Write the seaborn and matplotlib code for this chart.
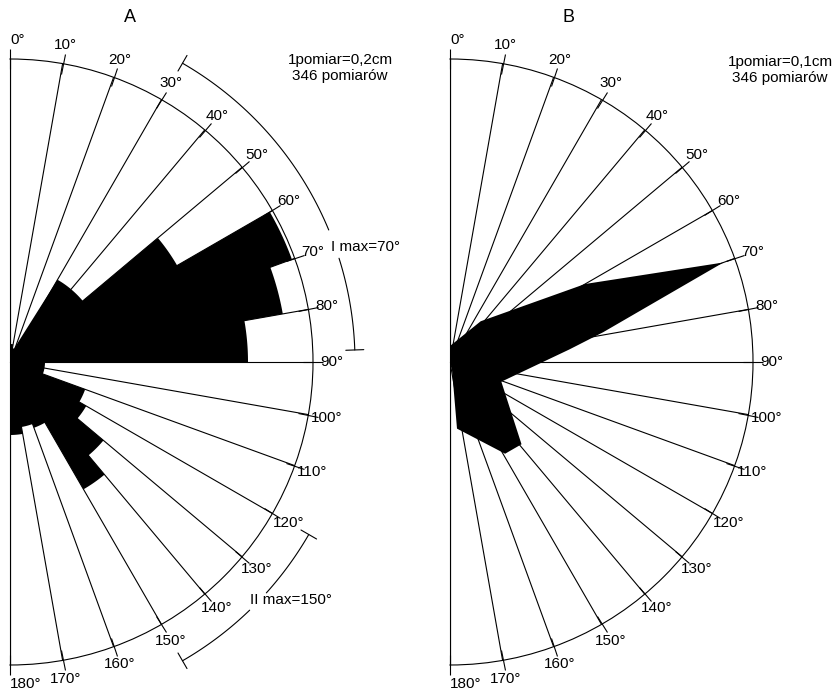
import numpy as np
import seaborn as sns
import matplotlib
matplotlib.use("Agg")
import matplotlib.pyplot as plt

# rose A: outline vertices (direction in degrees, radius in px of the drawing)
a_angles = [0, 10, 10, 17, 30, 50, 50, 60, 60, 70, 70, 80, 80, 90, 90, 110,
            110, 120, 120, 130, 130, 140, 140, 150, 150, 160, 160, 170, 170, 180]
a_radii = [18, 18, 14, 14, 95, 95, 193, 193, 300, 300, 277, 277, 238, 238, 35, 35,
           80, 80, 88, 88, 122, 122, 147, 147, 70, 70, 66, 66, 73, 73]

# rose B: frequency polygon vertices
b_angles = [0, 37, 60, 70, 79, 84, 111, 139, 149, 174]
b_radii = [16, 51, 156, 291, 156, 120, 55, 109, 107, 67]

tick_angles = list(range(0, 190, 10))
tick_labels = [f"{t}°" for t in tick_angles]

# range arcs drawn outside panel A
max1_range = [30, 88]
max1_gap = [67.5, 72.5]
max2_range = [120, 150]
max2_gap = [132, 136]

R = 303
W, H = 835, 690

sns.set_style("white")
plt.rcParams['font.family'] = ['Liberation Sans', 'DejaVu Sans']
plt.rcParams['text.color'] = 'black'


def outline(angles, radii):
    # constant radius pieces become arcs, the rest stay straight
    th, rr = [], []
    for i in range(len(angles) - 1):
        a0, a1, r0, r1 = angles[i], angles[i + 1], radii[i], radii[i + 1]
        if r0 == r1 and a0 != a1:
            seg = np.linspace(a0, a1, 30)[:-1]
            th.extend(seg)
            rr.extend([r0] * len(seg))
        else:
            th.append(a0)
            rr.append(r0)
    th.append(angles[-1])
    rr.append(radii[-1])
    return np.deg2rad(th), np.array(rr)


def half_rose(cx, cy):
    # the half disc gets centred inside a square box of side 2R
    ax = fig.add_axes([(cx - R / 2) / W, (H - cy - R) / H, 2 * R / W, 2 * R / H],
                      projection='polar')
    ax.set_theta_zero_location('N')
    ax.set_theta_direction(-1)
    ax.set_thetamin(0)
    ax.set_thetamax(180)
    ax.set_ylim(0, R)
    ax.set_yticks([])
    ax.set_xticks(np.deg2rad(tick_angles))
    ax.set_xticklabels(tick_labels, fontsize=11)
    for lbl in ax.get_xticklabels():
        if lbl.get_text() in ("0°", "180°"):
            lbl.set_horizontalalignment('left')
    ax.grid(True, axis='x', color='black', lw=0.8)
    ax.set_axisbelow(True)
    ax.tick_params(axis='x', bottom=False, top=True, direction='inout', length=7,
                   width=0.8, pad=3, colors='black')
    for s in ax.spines.values():
        s.set_color('black')
        s.set_linewidth(0.8)
    return ax


def range_arc(ax, rng, gap, r=345):
    for lo, hi in [(rng[0], gap[0]), (gap[1], rng[1])]:
        t = np.deg2rad(np.linspace(lo, hi, 40))
        ax.plot(t, np.full_like(t, r), color='black', lw=0.8, clip_on=False)
    for a in rng:
        ax.plot(np.deg2rad([a, a]), [r - 9, r + 9], color='black', lw=0.8, clip_on=False)


fig = plt.figure(figsize=(W / 100, H / 100), dpi=100)

axA = half_rose(10, 362)
th, rr = outline(a_angles, a_radii)
axA.fill(th, rr, color='black', lw=0, zorder=2)
range_arc(axA, max1_range, max1_gap)
range_arc(axA, max2_range, max2_gap)

axB = half_rose(450, 362)
axB.fill(np.deg2rad(b_angles), b_radii, color='black', lw=0, zorder=2)

fig.text(130 / W, 1 - 17 / H, "A", fontsize=13, ha='center', va='center')
fig.text(568 / W, 1 - 17 / H, "B", fontsize=13, ha='center', va='center')
fig.text(340 / W, 1 - 60 / H, "1pomiar=0,2cm", fontsize=11, ha='center', va='center')
fig.text(340 / W, 1 - 76 / H, "346 pomiarów", fontsize=11, ha='center', va='center')
fig.text(780 / W, 1 - 62 / H, "1pomiar=0,1cm", fontsize=11, ha='center', va='center')
fig.text(780 / W, 1 - 78 / H, "346 pomiarów", fontsize=11, ha='center', va='center')
fig.text(331 / W, 1 - 247 / H, "I max=70°", fontsize=11, ha='left', va='center')
fig.text(250 / W, 1 - 600 / H, "II max=150°", fontsize=11, ha='left', va='center')

fig.savefig("out.png", dpi=100)
